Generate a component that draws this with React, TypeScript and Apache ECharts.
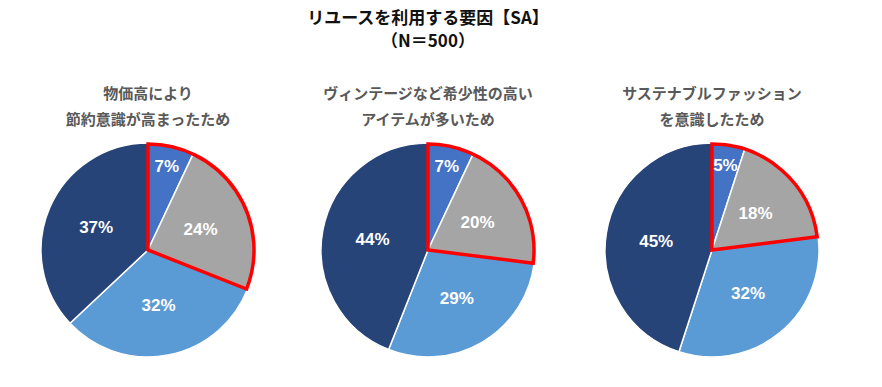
import React, { useEffect, useRef } from "react";
import * as echarts from "echarts";

const titleLines = ["リユースを利用する要因【SA】", "（N＝500）"];
const pieTitles = [
  ["物価高により", "節約意識が高まったため"],
  ["ヴィンテージなど希少性の高い", "アイテムが多いため"],
  ["サステナブルファッション", "を意識したため"],
];
const segmentNames = ["区分1", "区分2", "区分3", "区分4"];
const pie1Values = [7, 24, 32, 37];
const pie2Values = [7, 20, 29, 44];
const pie3Values = [5, 18, 32, 45];
const pieValues = [pie1Values, pie2Values, pie3Values];
const colors = ["#4472C4", "#A5A5A5", "#5B9BD5", "#264478"];

const centersX = [148, 428, 712];
const centerY = 250;
const R = 107;

export default function App() {
  const ref = useRef<HTMLDivElement>(null);
  useEffect(() => {
    document.body.style.margin = "0";
    const chart = echarts.init(ref.current!, undefined, { renderer: "svg" });
    const series: any[] = [];
    const titleStyle = {
      fontFamily: "Noto Sans CJK JP",
      fontWeight: "bold",
      fontSize: 17,
      color: "#111111",
    };
    const titles: any[] = titleLines.map((t, k) => ({
      text: t,
      left: 428,
      top: 8 + k * 23,
      padding: 0,
      textAlign: "center",
      textStyle: titleStyle,
    }));
    pieValues.forEach((vals, i) => {
      const cx = centersX[i];
      pieTitles[i].forEach((t, k) => {
        titles.push({
          text: t,
          left: cx,
          top: 85 + k * 26,
          padding: 0,
          textAlign: "center",
          textStyle: {
            fontFamily: "Noto Sans CJK JP",
            fontWeight: "bold",
            fontSize: 15,
            color: "#595959",
          },
        });
      });
      series.push({
        type: "pie",
        center: [cx, centerY],
        radius: [0, R],
        startAngle: 90,
        clockwise: true,
        silent: true,
        labelLine: { show: false },
        data: vals.map((v, j) => ({
          name: segmentNames[j],
          value: v,
          itemStyle: { color: colors[j], borderColor: "#ffffff", borderWidth: 1.5 },
          label: {
            show: j !== 0,
            position: "inside",
            formatter: "{c}%",
            color: "#ffffff",
            fontFamily: "Liberation Sans",
            fontWeight: "bold",
            fontSize: 17,
          },
        })),
      });
      // label for the small first slice, placed further out
      series.push({
        type: "pie",
        center: [cx, centerY],
        radius: [0, R * 1.55],
        startAngle: 90,
        clockwise: true,
        silent: true,
        labelLine: { show: false },
        data: vals.map((v, j) => ({
          name: segmentNames[j],
          value: v,
          itemStyle: { color: "transparent", borderWidth: 0 },
          label: {
            show: j === 0,
            position: "inside",
            formatter: "{c}%",
            color: "#ffffff",
            fontFamily: "Liberation Sans",
            fontWeight: "bold",
            fontSize: 17,
          },
        })),
      });
      // red outline around first two slices
      series.push({
        type: "pie",
        center: [cx, centerY],
        radius: [0, R - 1],
        startAngle: 90,
        clockwise: true,
        silent: true,
        label: { show: false },
        labelLine: { show: false },
        data: [
          {
            name: "outline",
            value: vals[0] + vals[1],
            itemStyle: {
              color: "transparent",
              borderColor: "#FF0000",
              borderWidth: 3.5,
              borderJoin: "miter",
            },
          },
          {
            name: "rest",
            value: vals[2] + vals[3],
            itemStyle: { color: "transparent", borderWidth: 0 },
          },
        ],
      });
    });
    chart.setOption({
      animation: false,
      backgroundColor: "#ffffff",
      title: titles,
      series,
    });
    return () => chart.dispose();
  }, []);
  return <div ref={ref} style={{ width: 882, height: 387 }} />;
}
